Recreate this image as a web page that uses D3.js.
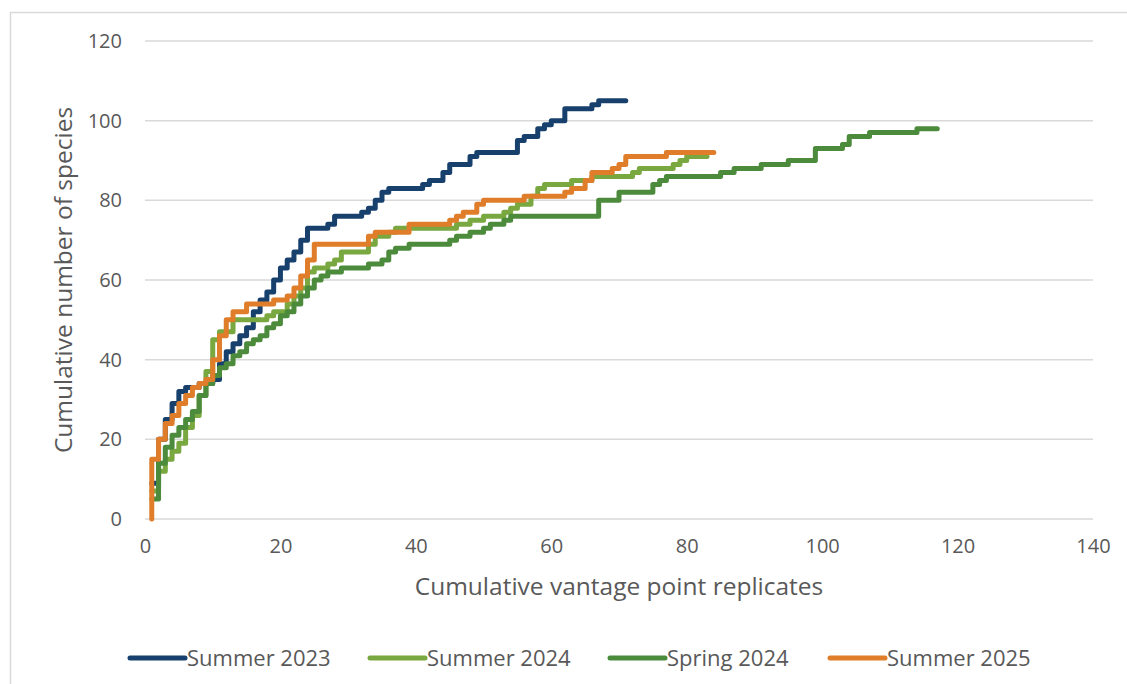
<!DOCTYPE html>
<html><head><meta charset="utf-8">
<script src="https://cdn.jsdelivr.net/npm/d3@7"></script>
<style>html,body{margin:0;padding:0;background:#fff;}svg{display:block;}</style>
</head><body>
<svg id="chart" width="1127" height="684"></svg>
<script>
// ---- data: [replicate, cumulative species] at each step ----
const seriesNames = ["Summer 2023", "Summer 2024", "Spring 2024", "Summer 2025"];
const seriesColors = ["#17406d", "#78a83f", "#4b8b3b", "#e07d2a"];

const summer2023 = [[1,9],[2,20],[3,25],[4,29],[5,32],[6,33],[8,34],[10,35],[11,39],[12,42],[13,44],[14,46],[15,48],[16,52],[17,55],[18,57],[19,60],[20,63],[21,65],[22,67],[23,70],[24,73],[27,74],[28,76],[32,77],[33,78],[34,80],[35,82],[36,83],[41,84],[42,85],[44,87],[45,89],[48,91],[49,92],[55,95],[56,96],[58,98],[59,99],[60,100],[62,103],[66,104],[67,105],[71,105]];
const summer2024 = [[1,7],[2,12],[3,15],[4,17],[5,19],[6,23],[7,26],[8,31],[9,37],[10,45],[11,47],[13,50],[18,51],[19,52],[21,54],[22,56],[23,58],[24,62],[25,63],[27,64],[28,65],[29,67],[33,69],[34,71],[36,72],[37,73],[46,74],[48,75],[50,76],[53,77],[54,78],[55,79],[57,81],[58,83],[59,84],[63,85],[66,86],[72,87],[73,88],[78,89],[79,90],[80,91],[83,91]];
const spring2024 = [[1,5],[2,14],[3,18],[4,21],[5,23],[6,25],[7,27],[8,31],[9,34],[10,36],[11,38],[12,39],[13,41],[14,42],[15,44],[16,45],[17,46],[18,48],[19,49],[20,51],[21,52],[22,54],[23,56],[24,58],[25,60],[26,61],[27,62],[29,63],[33,64],[35,65],[36,67],[37,68],[39,69],[45,70],[46,71],[48,72],[50,73],[51,74],[53,75],[54,76],[67,80],[70,82],[75,84],[76,85],[77,86],[85,87],[87,88],[91,89],[95,90],[99,93],[103,94],[104,96],[107,97],[114,98],[117,98]];
const summer2025 = [[1,0],[1,15],[2,20],[3,24],[4,26],[5,29],[6,31],[7,33],[8,34],[9,35],[10,40],[11,46],[12,50],[13,52],[15,54],[19,55],[21,56],[22,58],[23,61],[24,65],[25,69],[33,71],[34,72],[39,74],[45,75],[46,76],[47,77],[49,79],[50,80],[56,81],[62,82],[63,83],[65,85],[66,87],[69,88],[70,89],[71,91],[77,92],[84,92]];
const seriesData = [summer2023, summer2024, spring2024, summer2025];

const xTicks = [0, 20, 40, 60, 80, 100, 120, 140];
const yTicks = [0, 20, 40, 60, 80, 100, 120];
const xTitle = "Cumulative vantage point replicates";
const yTitle = "Cumulative number of species";

// ---- layout ----
const svg = d3.select("#chart");
const font = "'Open Sans', 'Liberation Sans', Arial, sans-serif";
const textColor = "#595959";
const gridColor = "#d9d9d9";

svg.append("rect").attr("x", 10.5).attr("y", 12.5).attr("width", 1140).attr("height", 700)
  .attr("fill", "#fff").attr("stroke", gridColor).attr("stroke-width", 1.5);

const x = d3.scaleLinear().domain([0, 140]).range([145, 1093]);
const y = d3.scaleLinear().domain([0, 120]).range([519, 41]);

// gridlines
svg.append("g").selectAll("line").data(yTicks).join("line")
  .attr("x1", x(0)).attr("x2", x(140))
  .attr("y1", d => y(d)).attr("y2", d => y(d))
  .attr("stroke", gridColor).attr("stroke-width", 1.5);

// y axis labels
const yAxis = d3.axisLeft(y).tickValues(yTicks).tickSize(0).tickPadding(0);
const gy = svg.append("g").attr("transform", `translate(${x(0) - 23},0)`).call(yAxis);
gy.select(".domain").remove();
gy.selectAll("text").attr("font-family", font).attr("font-size", 20).attr("fill", textColor);

// x axis labels
const xAxis = d3.axisBottom(x).tickValues(xTicks).tickSize(0).tickPadding(0);
const gx = svg.append("g").attr("transform", `translate(0,${y(0) + 20})`).call(xAxis);
gx.select(".domain").remove();
gx.selectAll("text").attr("font-family", font).attr("font-size", 20).attr("fill", textColor);

// axis titles
svg.append("text").attr("x", (x(0) + x(140)) / 2).attr("y", 595)
  .attr("text-anchor", "middle").attr("font-family", font).attr("font-size", 24.5)
  .attr("fill", textColor).text(xTitle);
svg.append("text").attr("transform", `translate(72,${(y(0) + y(120)) / 2}) rotate(-90)`)
  .attr("text-anchor", "middle").attr("font-family", font).attr("font-size", 24.5)
  .attr("fill", textColor).text(yTitle);

// lines
const line = d3.line().x(d => x(d[0])).y(d => y(d[1])).curve(d3.curveStepAfter);
svg.append("g").selectAll("path").data(seriesData).join("path")
  .attr("d", line).attr("fill", "none")
  .attr("stroke", (d, i) => seriesColors[i]).attr("stroke-width", 5)
  .attr("stroke-linejoin", "round").attr("stroke-linecap", "round");

// legend
const legendX = [130, 370, 610, 830];
const lg = svg.append("g").selectAll("g").data(seriesNames).join("g")
  .attr("transform", (d, i) => `translate(${legendX[i]},658)`);
lg.append("line").attr("x1", 0).attr("x2", 55).attr("y1", 0).attr("y2", 0)
  .attr("stroke", (d, i) => seriesColors[i]).attr("stroke-width", 5).attr("stroke-linecap", "round");
lg.append("text").attr("x", 57).attr("y", 8).attr("font-family", font).attr("font-size", 22)
  .attr("fill", textColor).text(d => d);
</script>
</body></html>
